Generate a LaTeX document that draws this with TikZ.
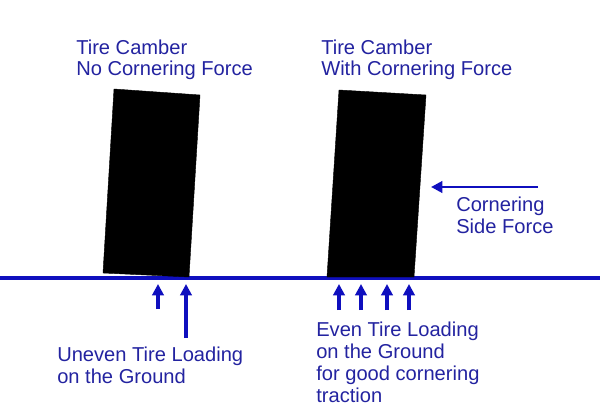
\documentclass[tikz,border=0pt]{standalone}
\usepackage{fontspec}
\setmainfont{Liberation Sans}
\usetikzlibrary{arrows.meta}
\definecolor{labelblue}{RGB}{35,35,160}
\definecolor{lineblue}{RGB}{15,15,190}

\begin{document}
\begin{tikzpicture}[x=0.025cm, y=-0.025cm]
	\tikzstyle {label} = [anchor=base west, inner sep=0pt, align=left, text=labelblue, font=\fontsize{14.3}{15.6}\selectfont]
	\tikzstyle {tire}  = [fill=black, draw=black, line width=0.3pt]
	\tikzstyle {force} = [draw=lineblue, line width=2.6pt, -{Triangle[length=8pt, width=8pt]}]

	\useasboundingbox (0,0) rectangle (600,420);

	% ground
	\coordinate (ground-l) at (0,278);
	\coordinate (ground-r) at (600,278);
	\draw[lineblue, line width=2.8pt] (ground-l) -- (ground-r);

	% tires
	\draw[tire] (114,89) -- (200,95) -- (189,277) -- (103,273) -- cycle;
	\draw[tire] (339,90) -- (426,95) -- (414,277) -- (327,277) -- cycle;

	% titles (base = last line)
	\node[label] (title-1) at (76,76) {Tire Camber\\No Cornering Force};
	\node[label] (title-2) at (321,76) {Tire Camber\\With Cornering Force};

	% side force
	\coordinate (side-s) at (538,187);
	\coordinate (side-e) at (431,187);
	\draw[force, line width=2pt] (side-s) -- (side-e);
	\node[label] (side) at (456,233) {Cornering\\Side Force};

	% uneven loading
	\coordinate (uneven-1s) at (158,309);
	\coordinate (uneven-1e) at (158,284);
	\coordinate (uneven-2s) at (186,338);
	\coordinate (uneven-2e) at (186,284);
	\draw[force] (uneven-1s) -- (uneven-1e);
	\draw[force] (uneven-2s) -- (uneven-2e);
	\node[label] (uneven) at (57,383) {Uneven Tire Loading\\on the Ground};

	% even loading
	\foreach \i/\x in {1/339, 2/361, 3/387, 4/409} {
		\coordinate (even-\i s) at (\x,310);
		\coordinate (even-\i e) at (\x,284);
		\draw[force] (even-\i s) -- (even-\i e);
	}
	\node[label] (even) at (316,402) {Even Tire Loading\\on the Ground\\for good cornering\\traction};
\end{tikzpicture}
\end{document}
